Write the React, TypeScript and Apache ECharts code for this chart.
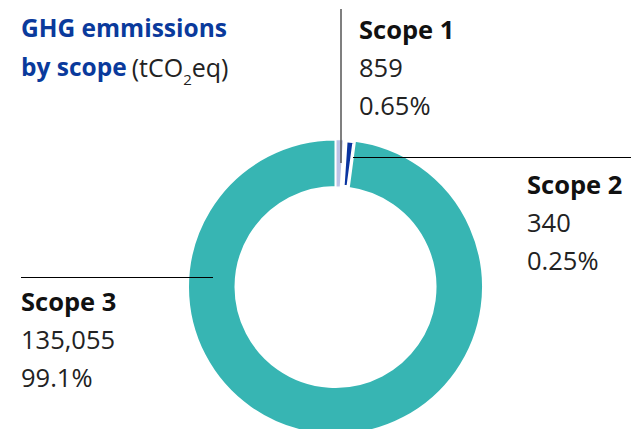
import React, { useEffect, useRef } from "react";
import * as echarts from "echarts";

const categories = ["Scope 1", "Scope 2", "Scope 3"];
const values = [859, 340, 135055];
const valueLabels = ["859", "340", "135,055"];
const percentLabels = ["0.65%", "0.25%", "99.1%"];
const colors = ["#bcc3e6", "#0a34a0", "#37b5b3"];

const FONT = "'Open Sans', 'Noto Sans', sans-serif";

export default function App() {
  const ref = useRef<HTMLDivElement>(null);
  useEffect(() => {
    if (!ref.current) return;
    const chart = echarts.init(ref.current, undefined, { renderer: "svg" });
    const labelPos = [
      { x: 359, y: 10 },
      { x: 527, y: 165 },
      { x: 21, y: 282 },
    ];
    chart.setOption({
      animation: false,
      title: {
        text: "{a|GHG emmissions}\n{a|by scope} {b|(tCO}{s|2}{b|eq)}",
        left: 21,
        top: 8,
        padding: 0,
        textStyle: {
          rich: {
            a: { fontFamily: FONT, fontSize: 24.5, fontWeight: "bold", color: "#0a3a9c", lineHeight: 39 },
            b: { fontFamily: FONT, fontSize: 25, fontWeight: "normal", color: "#222", lineHeight: 39 },
            s: { fontFamily: FONT, fontSize: 15, fontWeight: "normal", color: "#222", lineHeight: 39, verticalAlign: "bottom" },
          },
        },
      },
      graphic: [
        { type: "line", z: 100, shape: { x1: 341, y1: 9, x2: 341, y2: 163 }, style: { stroke: "#555", lineWidth: 1.5 } },
        { type: "line", z: 100, shape: { x1: 353, y1: 157.5, x2: 631, y2: 157.5 }, style: { stroke: "#000", lineWidth: 1 } },
        { type: "line", z: 100, shape: { x1: 21, y1: 277.5, x2: 213, y2: 277.5 }, style: { stroke: "#000", lineWidth: 1 } },
      ],
      series: [
        {
          type: "pie",
          center: [335.5, 287],
          radius: [100, 147.5],
          startAngle: 90,
          clockwise: true,
          minAngle: 3.8,
          avoidLabelOverlap: false,
          data: categories.map((name, i) => ({
            name,
            value: values[i],
            itemStyle: {
              color: colors[i],
              borderColor: "#fff",
              borderWidth: i === 1 ? 4.8 : i === 0 ? 1.2 : 2,
            },
          })),
          label: {
            show: true,
            formatter: (p: any) =>
              `{h|${p.name}}\n{v|${valueLabels[p.dataIndex]}}\n{v|${percentLabels[p.dataIndex]}}`,
            rich: {
              h: { fontFamily: FONT, fontSize: 25.5, fontWeight: "bold", color: "#111", lineHeight: 38 },
              v: { fontFamily: FONT, fontSize: 25.5, fontWeight: "normal", color: "#222", lineHeight: 38 },
            },
          },
          labelLine: { show: false },
          labelLayout: (params: any) => ({
            x: labelPos[params.dataIndex].x,
            y: labelPos[params.dataIndex].y,
            align: "left",
            verticalAlign: "top",
            hideOverlap: false,
            moveOverlap: null,
          }),
          emphasis: { disabled: true },
        },
      ],
    });
    return () => chart.dispose();
  }, []);
  return <div ref={ref} style={{ width: 631, height: 429, position: "absolute", left: 0, top: 0 }} />;
}
